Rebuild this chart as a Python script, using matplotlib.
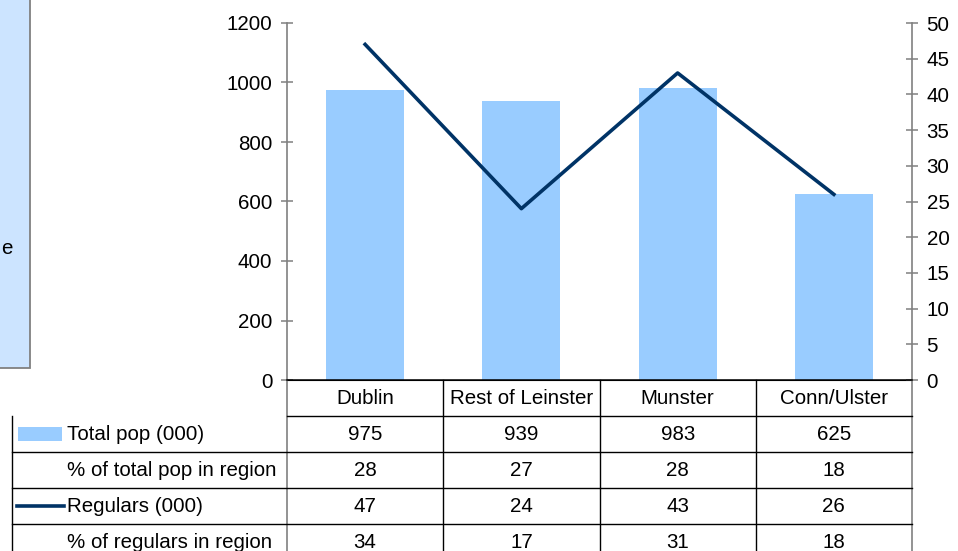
import matplotlib
matplotlib.use("Agg")
import matplotlib.pyplot as plt
import matplotlib.transforms as mtransforms
from matplotlib.patches import Rectangle
from matplotlib.lines import Line2D

plt.rcParams['font.family'] = ['Liberation Sans', 'DejaVu Sans']
plt.rcParams['font.size'] = 14.8

# data
regions = ['Dublin', 'Rest of Leinster', 'Munster', 'Conn/Ulster']
total_pop = [975, 939, 983, 625]
pct_total_pop = [28, 27, 28, 18]
regulars = [47, 24, 43, 26]
pct_regulars = [34, 17, 31, 18]
row_labels = ['Total pop (000)', '% of total pop in region',
              'Regulars (000)', '% of regulars in region']

bar_color = '#99ccff'
line_color = '#003366'
axis_gray = '#808080'

W, H = 958, 551
fig = plt.figure(figsize=(W / 100, H / 100), dpi=100)

# light blue text box, mostly cut off at the left edge
fig.patches.append(Rectangle((-10 / W, 1 - 368 / H), 40 / W, 380 / H,
                             transform=fig.transFigure, facecolor='#cce4ff',
                             edgecolor=axis_gray, lw=1.3))
fig.text(1 / W, 1 - 248 / H, 'e', ha='left', va='center')

ax = fig.add_axes([287 / W, 1 - 380 / H, 625 / W, 357 / H])
x = list(range(len(regions)))
ax.bar(x, total_pop, width=0.5, color=bar_color, zorder=1)
ax.set_xlim(-0.5, len(regions) - 0.5)
ax.set_ylim(0, 1200)
ax.set_yticks(range(0, 1201, 200))
ax.set_xticks([])

ax2 = ax.twinx()
ax2.plot(x, regulars, color=line_color, lw=2.6, zorder=3)
ax2.set_ylim(0, 50)
ax2.set_yticks(range(0, 51, 5))

for a in (ax, ax2):
    a.spines['top'].set_visible(False)
    a.tick_params(axis='y', direction='inout', length=9, width=1.1,
                  color=axis_gray, pad=6, labelsize=14.8)
ax.spines['left'].set_color(axis_gray)
ax.spines['left'].set_linewidth(1.2)
ax.spines['right'].set_visible(False)
ax2.spines['left'].set_visible(False)
ax2.spines['right'].set_color(axis_gray)
ax2.spines['right'].set_linewidth(1.2)
ax2.spines['bottom'].set_color('black')
ax2.spines['bottom'].set_linewidth(1.1)
ax.spines['bottom'].set_color('black')

# data table under the chart
trans = mtransforms.blended_transform_factory(ax.transData, ax.transAxes)
rh = 0.101
n_rows = 5
x_left = -2.26
bottom = -n_rows * rh

def tline(xs, ys, color='black', lw=1.0):
    ax.add_line(Line2D(xs, ys, transform=trans, color=color, lw=lw,
                       clip_on=False, zorder=5))

# vertical lines
tline([-0.5, -0.5], [0, bottom], color=axis_gray, lw=1.2)
tline([len(regions) - 0.5, len(regions) - 0.5], [0, bottom], color=axis_gray, lw=1.2)
for i in range(1, len(regions)):
    tline([i - 0.5, i - 0.5], [0, bottom])
tline([x_left, x_left], [-rh, bottom])
# horizontal lines
tline([-0.5, len(regions) - 0.5], [-rh, -rh])
for r in range(2, n_rows):
    tline([x_left, len(regions) - 0.5], [-r * rh, -r * rh])

for i, name in enumerate(regions):
    ax.text(i, -0.5 * rh, name, transform=trans, ha='center', va='center')

rows = [total_pop, pct_total_pop, regulars, pct_regulars]
for r, (label, vals) in enumerate(zip(row_labels, rows)):
    yc = -(r + 1.5) * rh
    ax.text(-1.905, yc, label, transform=trans, ha='left', va='center')
    for i, v in enumerate(vals):
        ax.text(i, yc, str(v), transform=trans, ha='center', va='center')

# legend keys in the table
ax.add_patch(Rectangle((-2.22, -1.5 * rh - 0.019), 0.28, 0.038, transform=trans,
                       facecolor=bar_color, edgecolor='none', clip_on=False))
tline([-2.23, -1.93], [-3.5 * rh, -3.5 * rh], color=line_color, lw=2.6)

fig.savefig('out.png', dpi=100)
